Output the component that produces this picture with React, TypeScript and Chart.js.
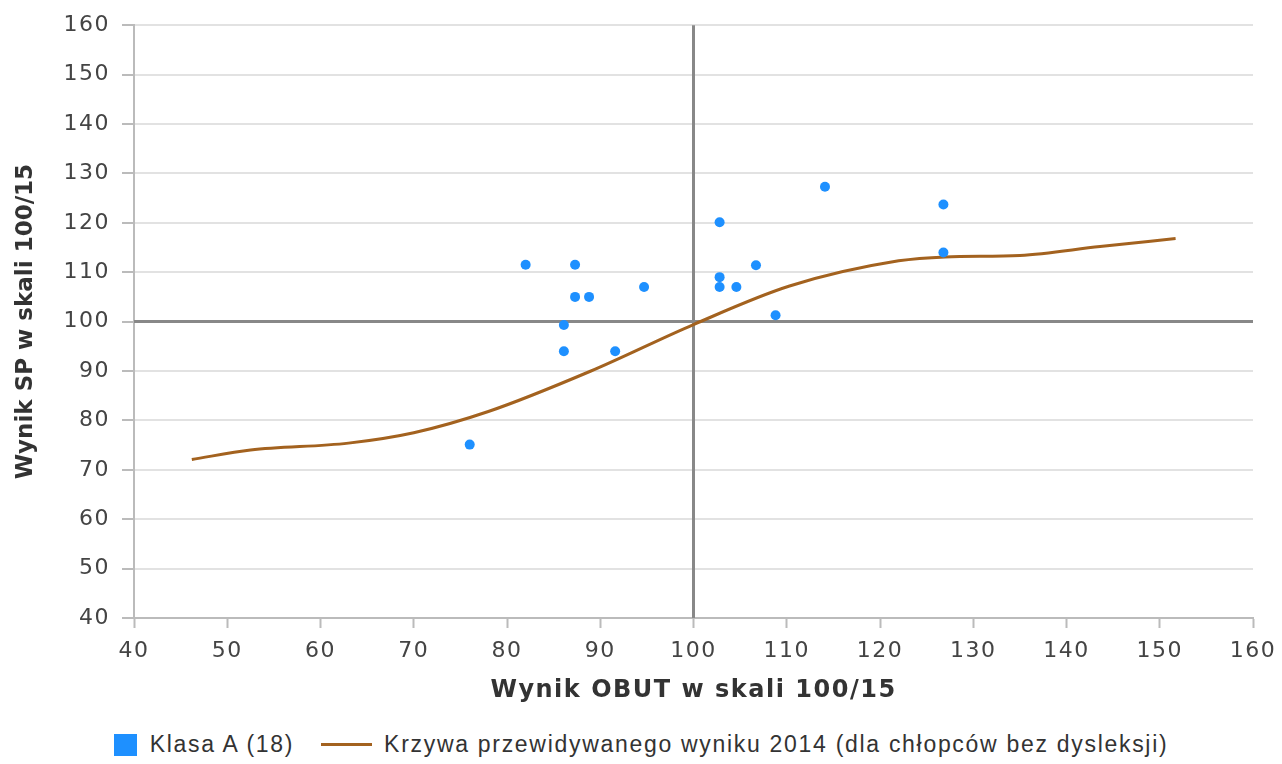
import { useEffect, useRef } from 'react';
import { Chart, registerables } from 'chart.js';

Chart.register(...registerables);

const classLabel = 'Klasa A (18)';
const curveLabel = 'Krzywa przewidywanego wyniku 2014 (dla chłopców bez dysleksji)';
const xTitle = 'Wynik OBUT w skali 100/15';
const yTitle = 'Wynik SP w skali 100/15';

const studentX = [76.0, 82.0, 87.3, 87.3, 88.8, 86.1, 86.1, 91.6, 94.7, 102.8, 102.8, 102.8, 104.6, 106.7, 108.8, 114.1, 126.8, 126.8];
const studentY = [75.1, 111.5, 111.5, 105.0, 105.0, 99.3, 94.0, 94.0, 107.0, 120.1, 109.0, 107.0, 107.0, 111.4, 101.3, 127.3, 123.7, 114.0];

const curveX = [46.2, 52.5, 63, 70, 78, 89, 100, 110.3, 122, 127, 135, 143.6, 151.7];
const curveY = [72.1, 74.0, 75.4, 77.5, 81.8, 90.0, 99.4, 107.2, 112.3, 113.1, 113.4, 115.2, 116.8];

const axisMin = 40;
const axisMax = 160;
const axisStep = 10;
const refValue = 100;

const blue = '#1e90ff';
const brown = '#a3621f';
const wideSpacing = '1.5px';

const refLines = {
  id: 'refLines',
  beforeDatasetsDraw(chart: any) {
    const { ctx, chartArea, scales } = chart;
    const px = scales.x.getPixelForValue(refValue);
    const py = scales.y.getPixelForValue(refValue);
    ctx.save();
    ctx.strokeStyle = '#888888';
    ctx.lineWidth = 3;
    ctx.beginPath();
    ctx.moveTo(px, chartArea.top);
    ctx.lineTo(px, chartArea.bottom);
    ctx.moveTo(chartArea.left, py);
    ctx.lineTo(chartArea.right, py);
    ctx.stroke();
    ctx.restore();
  },
};

const textSpacing = {
  id: 'textSpacing',
  beforeLayout(chart: any) {
    chart.ctx.letterSpacing = wideSpacing;
  },
  beforeDraw(chart: any) {
    chart.ctx.letterSpacing = wideSpacing;
    const ys = chart.scales.y;
    if (ys && !ys.__patched) {
      const orig = ys.drawTitle.bind(ys);
      ys.drawTitle = () => {
        ys.ctx.letterSpacing = '0px';
        orig();
        ys.ctx.letterSpacing = wideSpacing;
      };
      ys.__patched = true;
    }
  },
};

export default function App() {
  const canvasRef = useRef<HTMLCanvasElement | null>(null);

  useEffect(() => {
    document.body.style.margin = '0';
    const canvas = canvasRef.current;
    if (!canvas) return;
    const chart = new Chart(canvas, {
      type: 'scatter',
      data: {
        datasets: [
          {
            label: classLabel,
            data: studentX.map((x, i) => ({ x, y: studentY[i] })),
            backgroundColor: blue,
            borderWidth: 0,
            pointRadius: 5,
          },
          {
            label: curveLabel,
            data: curveX.map((x, i) => ({ x, y: curveY[i] })),
            showLine: true,
            borderColor: brown,
            borderWidth: 3,
            pointRadius: 0,
            cubicInterpolationMode: 'monotone',
          } as any,
        ],
      },
      options: {
        animation: false,
        responsive: true,
        maintainAspectRatio: false,
        layout: { padding: { top: 22, right: 29, left: 0, bottom: 0 } },
        plugins: {
          legend: { display: false },
          tooltip: { enabled: false },
        },
        scales: {
          x: {
            type: 'linear',
            min: axisMin,
            max: axisMax,
            afterFit: (s: any) => {
              s.height = 107;
              s.paddingRight = 0;
              s.paddingLeft = 0;
            },
            ticks: {
              stepSize: axisStep,
              font: { family: 'DejaVu Sans', size: 22 },
              color: '#444444',
              padding: 10,
            },
            grid: {
              drawOnChartArea: false,
              drawTicks: true,
              tickLength: 10,
              tickColor: '#bbbbbb',
              tickWidth: 2,
            },
            border: { color: '#bbbbbb', width: 2 },
            title: {
              display: true,
              text: xTitle,
              font: { family: 'DejaVu Sans', size: 24, weight: 'bold' },
              color: '#333333',
              padding: { top: 0, bottom: 20 },
            },
          },
          y: {
            type: 'linear',
            min: axisMin,
            max: axisMax,
            afterFit: (s: any) => { s.width = 134; },
            ticks: {
              stepSize: axisStep,
              font: { family: 'DejaVu Sans', size: 22 },
              color: '#444444',
              padding: 12,
            },
            grid: {
              color: '#e2e2e2',
              lineWidth: 2,
              tickLength: 12,
              tickColor: '#bbbbbb',
              tickWidth: 2,
            },
            border: { color: '#bbbbbb', width: 2 },
            title: {
              display: true,
              text: yTitle,
              font: { family: 'DejaVu Sans', size: 23, weight: 'bold' },
              color: '#333333',
              padding: { top: 12, bottom: 0 },
            },
          },
        },
      },
      plugins: [textSpacing, refLines],
    });
    return () => chart.destroy();
  }, []);

  return (
    <div style={{ width: 1282, height: 764 }}>
      <div style={{ position: 'relative', width: 1282, height: 725 }}>
        <canvas ref={canvasRef} />
      </div>
      <div
        style={{
          height: 39,
          display: 'flex',
          justifyContent: 'center',
          alignItems: 'center',
          fontFamily: '"Liberation Sans", Arial, sans-serif',
          fontSize: 23,
          letterSpacing: '1.7px',
          color: '#333333',
          whiteSpace: 'nowrap',
        }}
      >
        <span style={{ display: 'inline-block', width: 23, height: 22, background: blue, marginRight: 13 }} />
        <span>{classLabel}</span>
        <span style={{ display: 'inline-block', width: 51, height: 3, background: brown, marginLeft: 27, marginRight: 12 }} />
        <span>{curveLabel}</span>
      </div>
    </div>
  );
}
